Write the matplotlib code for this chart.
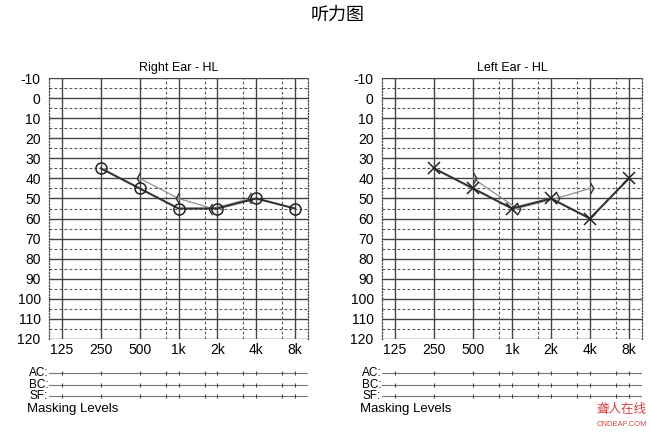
import numpy as np
import matplotlib
matplotlib.use("Agg")
import matplotlib.pyplot as plt
from matplotlib.path import Path

plt.rcParams['font.family'] = ['Liberation Sans', 'Noto Sans CJK SC', 'DejaVu Sans']

# data
freqs = [125, 250, 500, 1000, 2000, 4000, 8000]
freq_labels = ['125', '250', '500', '1k', '2k', '4k', '8k']
mid_freqs = [750, 1500, 3000, 6000]

right_ac_f = [250, 500, 1000, 2000, 4000, 8000]
right_ac = [35, 45, 55, 55, 50, 55]
right_bc_f = [500, 1000, 2000, 4000]
right_bc = [40, 50, 55, 50]

left_ac_f = [250, 500, 1000, 2000, 4000, 8000]
left_ac = [35, 45, 55, 50, 60, 40]
left_bc_f = [500, 1000, 2000, 4000]
left_bc = [40, 55, 50, 45]

db_ticks = list(range(-10, 121, 10))


def octave(f):
    return np.log2(np.asarray(f, dtype=float) / 125.0)


def mid_pos(f):
    # the chart places the half-octave lines at about 2/3 of the octave
    return np.floor(octave(f)) + 0.67


# bone conduction symbols, open end on the frequency line
lt_marker = Path([(0, 1), (-0.6, 0), (0, -1)], [Path.MOVETO, Path.LINETO, Path.LINETO])
gt_marker = Path([(0, 1), (0.6, 0), (0, -1)], [Path.MOVETO, Path.LINETO, Path.LINETO])

fig = plt.figure(figsize=(6.54, 4.32), dpi=100)
fig.text(338 / 654, 1 - 15 / 432, '听力图', ha='center', va='center', fontsize=13,
         family=['Noto Sans CJK SC', 'DejaVu Sans'])

W, H = 654.0, 432.0
panels = [
    dict(x0=49, x1=308, title='Right Ear - HL', ac_f=right_ac_f, ac=right_ac,
         bc_f=right_bc_f, bc=right_bc, ac_marker='o', bc_marker=lt_marker, shift=-0.13),
    dict(x0=382, x1=642, title='Left Ear - HL', ac_f=left_ac_f, ac=left_ac,
         bc_f=left_bc_f, bc=left_bc, ac_marker='x', bc_marker=gt_marker, shift=0.13),
]

xlim = (-0.335, 6.335)

for p in panels:
    ax = fig.add_axes([p['x0'] / W, 1 - 339 / H, (p['x1'] - p['x0']) / W, (339 - 78) / H])
    ax.set_xlim(*xlim)
    ax.set_ylim(120, -10)

    for y in db_ticks:
        ax.axhline(y, color='#444444', lw=1.0, zorder=1)
    for y in range(-5, 120, 10):
        ax.axhline(y, color='#555555', lw=0.8, ls=(0, (2.5, 2)), zorder=1)
    for x in octave(freqs):
        ax.axvline(x, color='#444444', lw=1.0, zorder=1)
    for x in mid_pos(mid_freqs):
        ax.axvline(x, color='#555555', lw=0.8, ls=(0, (2.5, 2)), zorder=1)

    for s in ['top', 'bottom']:
        ax.spines[s].set_visible(False)
    for s in ['left', 'right']:
        ax.spines[s].set_linestyle((0, (1, 1.5)))
        ax.spines[s].set_color('#444444')
        ax.spines[s].set_linewidth(0.9)

    ax.set_yticks(db_ticks)
    ax.set_yticklabels([str(v) for v in db_ticks])
    ax.set_xticks(octave(freqs))
    ax.set_xticklabels(freq_labels)
    ax.tick_params(axis='y', length=0, pad=6, labelsize=10)
    ax.tick_params(axis='x', length=0, pad=3, labelsize=10)
    ax.set_title(p['title'], fontsize=9, pad=5)

    # bone conduction: move symbol aside where it coincides with the AC symbol
    ac_map = dict(zip(p['ac_f'], p['ac']))
    bc_x = octave(p['bc_f'])
    bc_x = np.array([x + (p['shift'] if ac_map.get(f) == v else 0.0)
                     for x, f, v in zip(bc_x, p['bc_f'], p['bc'])])
    ax.plot(bc_x, p['bc'], color='#909090', lw=0.9, zorder=3)
    ax.plot(bc_x, p['bc'], ls='none', marker=p['bc_marker'], ms=8, mfc='none',
            mec='#333333', mew=1.0, zorder=4)

    ax.plot(octave(p['ac_f']), p['ac'], color='#333333', lw=1.5, zorder=5)
    ax.plot(octave(p['ac_f']), p['ac'], ls='none', marker=p['ac_marker'], ms=8,
            mfc='none', mec='#222222', mew=1.1, zorder=6)

    # masking levels strip
    mk = fig.add_axes([p['x0'] / W, 1 - 402 / H, (p['x1'] - p['x0']) / W, 35 / H])
    mk.set_xlim(*xlim)
    mk.set_ylim(2.5, -0.5)
    mk.axis('off')
    tick_x = np.concatenate([octave(freqs), mid_pos(mid_freqs)])
    for row, lab in enumerate(['AC:', 'BC:', 'SF:']):
        mk.plot(xlim, [row, row], color='#777777', lw=0.8)
        mk.plot(tick_x, [row] * len(tick_x), ls='none', marker='|', ms=3,
                color='#444444', mew=0.8)
        mk.text(xlim[0] - 0.02, row, lab, ha='right', va='center', fontsize=8.5)
    fig.text((p['x0'] - 22) / W, 1 - 409 / H, 'Masking Levels', ha='left',
             va='center', fontsize=9.5)

# site watermark in the corner
fig.text(622 / W, 1 - 410 / H, '聋人在线', ha='center', va='center', fontsize=9,
         color='#d44040', family=['Noto Sans CJK SC', 'DejaVu Sans'])
fig.text(622 / W, 1 - 424 / H, 'CNDEAF.COM', ha='center', va='center', fontsize=5.5,
         color='#d44040')

fig.savefig('out.png', dpi=100)
